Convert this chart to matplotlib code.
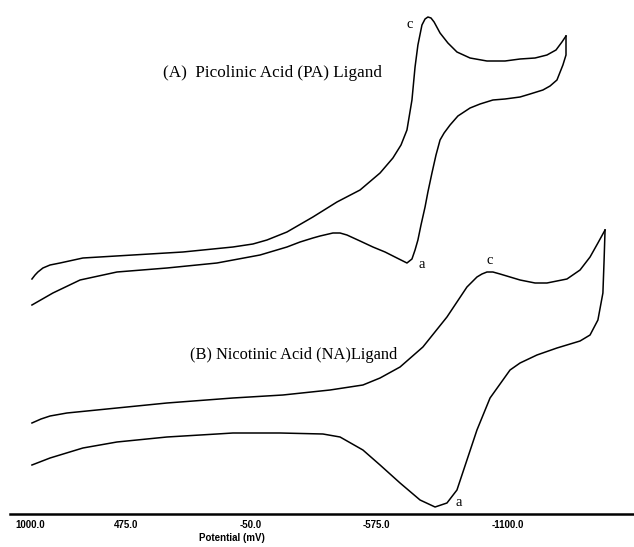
import matplotlib
matplotlib.use("Agg")
import matplotlib.pyplot as plt
from matplotlib.transforms import ScaledTranslation

# ── Data (potential in mV, current in arbitrary units) ───────────────────────
# (A) Picolinic acid: cathodic sweep then return sweep
pa_fwd_mv = [870, 857, 845, 824, 794, 752, 656, 446, 236, 26, -58, -117, -201, -310, -411, -508,
             -592, -646, -680, -705, -726, -739, -751, -768, -781, -793, -806, -819,
             -844, -877, -915, -970, -1041, -1117, -1180, -1243, -1293, -1331, -1356, -1373]
pa_fwd_i = [235, 239, 242, 246, 249, 251, 256, 259, 262, 267, 270, 274, 282, 297, 312, 324,
            341, 356, 369, 384, 414, 447, 469, 489, 495, 497, 496, 492,
            481, 471, 462, 456, 453, 453, 455, 456, 459, 464, 472, 478]
pa_rev_mv = [-1373, -1373, -1360, -1335, -1306, -1276, -1222, -1180, -1117, -1066, -1012,
             -970, -919, -886, -861, -844, -827, -810, -793, -781, -764, -751, -739,
             -726, -705, -663, -613, -562, -508, -453, -424, -394, -340, -310, -256,
             -201, -88, 93, 303, 513, 668, 782, 870]
pa_rev_i = [478, 459, 449, 434, 428, 424, 420, 417, 415, 414, 410,
            406, 398, 389, 381, 374, 359, 341, 322, 307, 289, 274, 264,
            255, 251, 256, 262, 267, 273, 279, 281, 281, 278, 276, 272,
            267, 259, 251, 246, 242, 234, 221, 209]

# (B) Nicotinic acid
na_fwd_mv = [870, 832, 794, 723, 513, 303, 26, -184, -382, -520, -592, -676, -772, -873,
             -957, -999, -1020, -1041, -1066, -1096, -1180, -1243, -1293, -1377, -1432, -1474,
             -1507, -1537]
na_fwd_i = [91, 95, 98, 101, 106, 111, 116, 119, 124, 129, 136, 147, 167, 197,
            227, 237, 240, 242, 242, 240, 234, 231, 231, 235, 244, 257,
            271, 284]
na_rev_mv = [-1537, -1533, -1528, -1507, -1474, -1432, -1335, -1251, -1180, -1138, -1108,
             -1054, -999, -957, -915, -873, -823, -760, -676, -592, -520, -424, -352,
             -172, 26, 93, 303, 513, 656, 794, 870]
na_rev_i = [284, 254, 221, 194, 179, 173, 166, 159, 151, 144, 134,
            116, 84, 54, 24, 11, 7, 14, 31, 49, 64, 77, 80,
            81, 81, 80, 77, 72, 66, 56, 49]

tick_mv = [1000, 475, -50, -575, -1100]
tick_labels = ["1000.0", "475.0", "-50.0", "-575.0", "-1100.0"]

# ── Figure ───────────────────────────────────────────────────────────────────
fig = plt.figure(figsize=(6.34, 5.47), dpi=100)
ax = fig.add_axes([0, 33 / 547, 1, 514 / 547])

for mv, cur in [(pa_fwd_mv, pa_fwd_i), (pa_rev_mv, pa_rev_i),
                (na_fwd_mv, na_fwd_i), (na_rev_mv, na_rev_i)]:
    ax.plot(mv, cur, color="black", linewidth=1.1, solid_joinstyle="round")

ax.set_xlim(1004.2, -1658.6)
ax.set_ylim(0, 514)

serif = "Liberation Serif"
ax.text(320, 441, "(A)  Picolinic Acid (PA) Ligand", family=serif, fontsize=12.3,
        ha="left", va="center")
ax.text(206, 159, "(B) Nicotinic Acid (NA)Ligand", family=serif, fontsize=11.8,
        ha="left", va="center")
ax.text(-718, 490, "c", family=serif, fontsize=10.5, ha="center", va="center")
ax.text(-766, 249, "a", family=serif, fontsize=10.5, ha="center", va="center")
ax.text(-1054, 253, "c", family=serif, fontsize=10.5, ha="center", va="center")
ax.text(-924, 11, "a", family=serif, fontsize=10.5, ha="center", va="center")

# ── Axis: bottom line only, bold small tick labels ───────────────────────────
for side in ["left", "top", "right"]:
    ax.spines[side].set_visible(False)
ax.spines["bottom"].set_linewidth(1.8)
ax.spines["bottom"].set_bounds(962, -1658.6)
ax.set_yticks([])
ax.set_xticks(tick_mv, tick_labels)
ax.tick_params(axis="x", length=0, pad=4)
for lab in ax.get_xticklabels():
    lab.set_family("Liberation Sans")
    lab.set_fontweight("bold")
    lab.set_fontsize(7)
labs = ax.get_xticklabels()
labs[0].set_transform(labs[0].get_transform() + ScaledTranslation(0.29, 0, fig.dpi_scale_trans))
labs[-1].set_transform(labs[-1].get_transform() + ScaledTranslation(0.07, 0, fig.dpi_scale_trans))

ax.set_xlabel("Potential (mV)", family="Liberation Sans", fontweight="bold", fontsize=7)
ax.xaxis.set_label_coords(232 / 634, -0.036)

fig.savefig("out.png", dpi=100)
